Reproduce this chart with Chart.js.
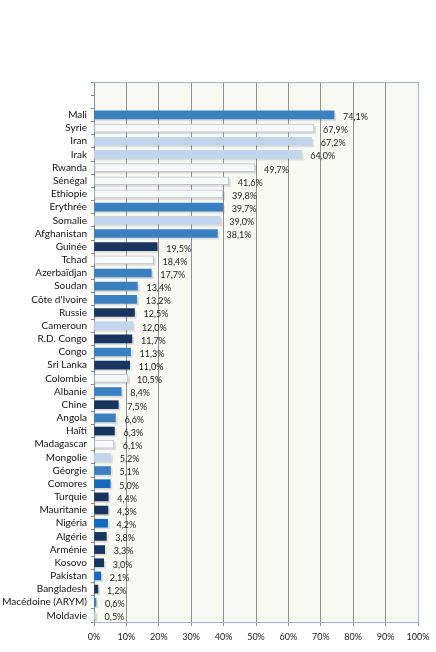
<!DOCTYPE html>
<html>
<head>
<meta charset="utf-8">
<script src="https://cdn.jsdelivr.net/npm/chart.js@4"></script>
<style>
  html, body { margin: 0; padding: 0; background: #fff; }
  #wrap { width: 436px; height: 652px; position: relative; }
</style>
</head>
<body>
<div id="wrap"><canvas id="chart"></canvas></div>
<script>
// Pays (de haut en bas) et pourcentages
const pays = ['Mali', 'Syrie', 'Iran', 'Irak', 'Rwanda', 'Sénégal', 'Ethiopie', 'Erythrée', 'Somalie', 'Afghanistan',
  'Guinée', 'Tchad', 'Azerbaïdjan', 'Soudan', "Côte d'Ivoire", 'Russie', 'Cameroun', 'R.D. Congo', 'Congo', 'Sri Lanka',
  'Colombie', 'Albanie', 'Chine', 'Angola', 'Haïti', 'Madagascar', 'Mongolie', 'Géorgie', 'Comores', 'Turquie',
  'Mauritanie', 'Nigéria', 'Algérie', 'Arménie', 'Kosovo', 'Pakistan', 'Bangladesh', 'Macédoine (ARYM)', 'Moldavie'];
const taux = [74.1, 67.9, 67.2, 64.0, 49.7, 41.6, 39.8, 39.7, 39.0, 38.1,
  19.5, 18.4, 17.7, 13.4, 13.2, 12.5, 12.0, 11.7, 11.3, 11.0,
  10.5, 8.4, 7.5, 6.6, 6.3, 6.1, 5.2, 5.1, 5.0, 4.4,
  4.3, 4.2, 3.8, 3.3, 3.0, 2.1, 1.2, 0.6, 0.5];
// teinte de chaque barre (style, pas des donnees)
const teinte = ['mid', 'white', 'light', 'light', 'white', 'white', 'white', 'mid', 'light', 'mid',
  'navy', 'white', 'mid', 'mid', 'mid', 'navy', 'light', 'navy', 'mid', 'navy',
  'white', 'mid', 'navy', 'mid', 'navy', 'white', 'light', 'mid', 'bright', 'navy',
  'navy', 'bright', 'navy', 'navy', 'navy', 'bright', 'navy', 'mid', 'white'];
const xTicks = [0, 10, 20, 30, 40, 50, 60, 70, 80, 90, 100];

const couleurs = {
  mid:    ['#5c9bd3', '#3a80c0', '#5b98cf'],
  light:  ['#dbe5f4', '#c3d4ed', '#d6e1f2'],
  white:  ['#ffffff', '#f7f8fa', '#ffffff'],
  navy:   ['#2d4c7a', '#17355f', '#2a4872'],
  bright: ['#2f8ad8', '#136abc', '#2d83cf']
};
const bordures = { mid: '#2c6eaa', light: '#b3c6e2', white: '#b9c5d3', navy: '#132c52', bright: '#0f5fa8' };

const labels = ['', ''].concat(pays);
const valeurs = [null, null].concat(taux);
const tons = [null, null].concat(teinte);

function fond(ctx) {
  const t = tons[ctx.dataIndex];
  if (!t) return 'transparent';
  const el = ctx.chart.getDatasetMeta(0).data[ctx.dataIndex];
  if (!el || !isFinite(el.y) || !ctx.chart.chartArea) return couleurs[t][1];
  const h = 4.5;
  const g = ctx.chart.ctx.createLinearGradient(0, el.y - h, 0, el.y + h);
  g.addColorStop(0, couleurs[t][0]);
  g.addColorStop(0.5, couleurs[t][1]);
  g.addColorStop(1, couleurs[t][2]);
  return g;
}

const cadre = {
  id: 'cadre',
  beforeDraw(chart) {
    const { ctx, chartArea: a } = chart;
    ctx.save();
    ctx.fillStyle = '#f9f9f4';
    ctx.fillRect(a.left, a.top, a.right - a.left, a.bottom - a.top);
    ctx.restore();
  },
  afterDraw(chart) {
    const { ctx, chartArea: a } = chart;
    ctx.save();
    ctx.strokeStyle = '#9fb6d2';
    ctx.lineWidth = 1;
    ctx.beginPath();
    ctx.moveTo(a.left, a.top + 0.5);
    ctx.lineTo(a.right + 0.5, a.top + 0.5);
    ctx.lineTo(a.right + 0.5, a.bottom + 0.5);
    ctx.lineTo(a.left, a.bottom + 0.5);
    ctx.stroke();
    ctx.restore();
  }
};

// ombre portee sous les barres
const ombre = {
  id: 'ombre',
  beforeDatasetsDraw(chart) {
    const { ctx } = chart;
    const meta = chart.getDatasetMeta(0);
    ctx.save();
    ctx.fillStyle = 'rgba(90,90,90,0.18)';
    meta.data.forEach((bar, i) => {
      if (valeurs[i] == null) return;
      const p = bar.getProps(['x', 'y', 'base', 'height'], true);
      ctx.fillRect(p.base, p.y - p.height / 2 + 2, p.x - p.base + 2, p.height);
    });
    ctx.restore();
  }
};

const etiquettes = {
  id: 'etiquettes',
  afterDatasetsDraw(chart) {
    const { ctx } = chart;
    const meta = chart.getDatasetMeta(0);
    ctx.save();
    ctx.font = '9px Lato, "Liberation Sans", sans-serif';
    ctx.fillStyle = '#222';
    ctx.textBaseline = 'middle';
    meta.data.forEach((bar, i) => {
      const v = valeurs[i];
      if (v == null) return;
      ctx.fillText(v.toFixed(1).replace('.', ',') + '%', bar.x + 9, bar.y + 2);
    });
    ctx.restore();
  }
};

new Chart(document.getElementById('chart'), {
  type: 'bar',
  data: {
    labels: labels,
    datasets: [{
      data: valeurs,
      backgroundColor: fond,
      borderColor: (c) => tons[c.dataIndex] ? bordures[tons[c.dataIndex]] : 'transparent',
      borderWidth: (c) => tons[c.dataIndex] === 'white' ? 1 : 0,
      borderSkipped: false,
      barThickness: 8
    }]
  },
  options: {
    indexAxis: 'y',
    responsive: true,
    maintainAspectRatio: false,
    animation: false,
    layout: { padding: { top: 82, right: 18, left: 2, bottom: 4 } },
    plugins: { legend: { display: false }, tooltip: { enabled: false } },
    scales: {
      x: {
        min: 0, max: 100,
        afterBuildTicks: (s) => { s.ticks = xTicks.map((v) => ({ value: v })); },
        ticks: {
          callback: (v) => v + '%',
          font: { family: 'Lato, "Liberation Sans", sans-serif', size: 9 },
          color: '#222',
          padding: 6,
          maxRotation: 0
        },
        grid: { color: '#909090', lineWidth: 1, tickLength: 4, tickColor: '#909090' },
        border: { color: '#9fb6d2' },
        afterFit: (s) => { s.height = 26; }
      },
      y: {
        ticks: {
          font: { family: 'Lato, "Liberation Sans", sans-serif', size: 10 },
          color: '#111',
          padding: 4,
          autoSkip: false
        },
        grid: { drawOnChartArea: false, tickLength: 3, color: '#8a8a8a', offset: true },
        border: { color: '#8a8a8a' },
        afterFit: (s) => { s.width = 92; }
      }
    }
  },
  plugins: [cadre, ombre, etiquettes]
});
</script>
</body>
</html>
